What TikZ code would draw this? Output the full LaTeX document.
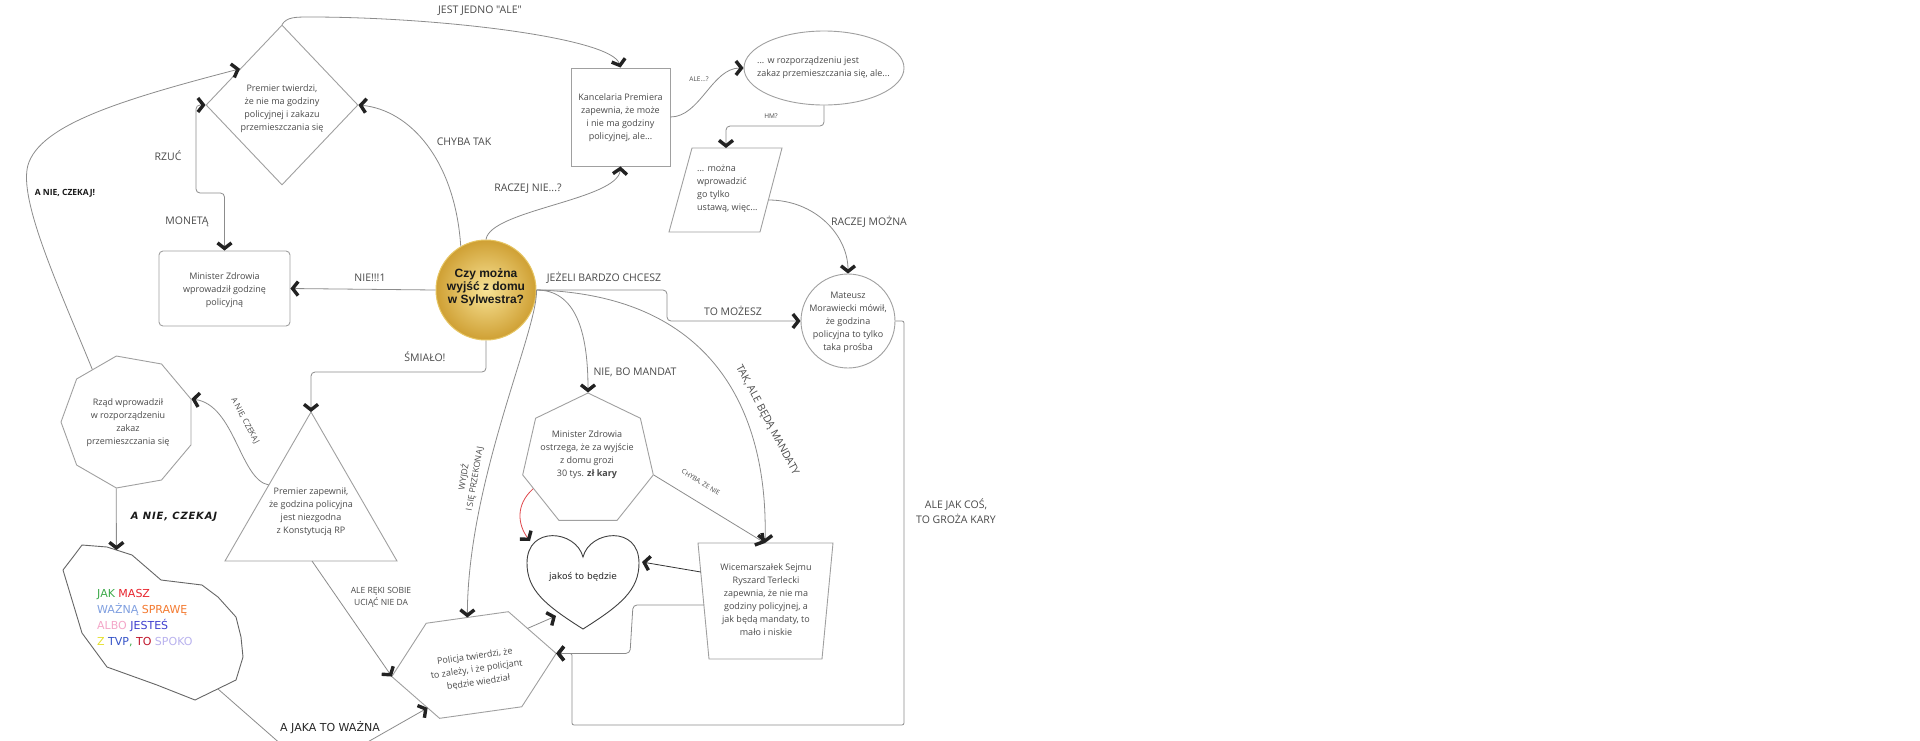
\documentclass[tikz,border=0pt]{standalone}
\usepackage{fontspec}
\setmainfont{Open Sans}
\newfontfamily\osplain[Ligatures=TeXOff]{Open Sans}
\newfontfamily\arialf{Liberation Sans}
\newfontfamily\comicf{DejaVu Sans}
\newfontfamily\comicsp[LetterSpace=8]{DejaVu Sans}
\usetikzlibrary{arrows.meta,shapes.geometric,calc}

\definecolor{edgec}{HTML}{8C8C8C}
\definecolor{shapec}{HTML}{A0A0A0}
\definecolor{tipc}{HTML}{222222}
\definecolor{txtc}{HTML}{4A4A4A}
\definecolor{goldL}{HTML}{F8E396}
\definecolor{goldD}{HTML}{CFA034}
\definecolor{goldR}{HTML}{E6C563}
\definecolor{cG}{HTML}{3DAA4A}
\definecolor{cR}{HTML}{E8252E}
\definecolor{cLB}{HTML}{7F9FE0}
\definecolor{cO}{HTML}{F47A30}
\definecolor{cP}{HTML}{F4A6C8}
\definecolor{cB}{HTML}{3F3FCF}
\definecolor{cY}{HTML}{E5E02A}
\definecolor{cBB}{HTML}{3654C8}
\definecolor{cDR}{HTML}{C0142A}
\definecolor{cL}{HTML}{B9B2EE}
\definecolor{redc}{HTML}{E0474C}

\tikzset{
  conn/.style={draw=edgec, line width=0.8pt, -{Straight Barb[length=5.5pt,width=14pt,line width=3.4pt,color=tipc]}},
  conntwo/.style={draw=edgec, line width=0.8pt, {Straight Barb[length=5.5pt,width=14pt,line width=3.4pt,color=tipc]}-{Straight Barb[length=5.5pt,width=14pt,line width=3.4pt,color=tipc]}},
  shapeline/.style={draw=shapec, line width=0.9pt},
  ntext/.style={font=\fontsize{9}{13}\selectfont, text=txtc, align=center, inner sep=0pt},
  lbl/.style={font=\fontsize{10.5}{15}\selectfont, text=txtc, inner sep=0pt},
  smalllbl/.style={font=\fontsize{6.5}{8}\selectfont, text=txtc, inner sep=0pt},
}

\begin{document}
\begin{tikzpicture}[x=1pt,y=-1pt]
\useasboundingbox[fill=white] (0,0) rectangle (1920,740);
\clip (0,0) rectangle (1920,740);

% ---------- shapes ----------
% diamond
\node[shapeline, diamond, minimum width=152, minimum height=160, inner sep=0pt] (dia) at (282,105) {};
\node[ntext] (dia-t) at (282,109) {Premier twierdzi,\\że nie ma godziny\\policyjnej i zakazu\\przemieszczania się};

% Kancelaria
\node[shapeline, rectangle, minimum width=99, minimum height=98, inner sep=0pt] (kanc) at (620.5,117) {};
\node[ntext] (kanc-t) at (620.5,118) {Kancelaria Premiera\\zapewnia, że może\\i nie ma godziny\\policyjnej, ale...};

% ellipse
\node[shapeline, ellipse, minimum width=160, minimum height=74, inner sep=0pt] (ell) at (824,68) {};
\node[ntext, align=left, anchor=west] (ell-t) at (757,67.5) {... w rozporządzeniu jest\\zakaz przemieszczania się, ale...};

% parallelogram
\draw[shapeline] (692,148) -- (782,148) -- (760,232) -- (669,232) -- cycle;
\coordinate (para-top) at (726,148);
\coordinate (para-r) at (768.5,200);
\node[ntext, align=left, anchor=west] (para-t) at (697,188.5) {... można\\wprowadzić\\go tylko\\ustawą, więc...};

% Mateusz circle
\node[shapeline, circle, minimum size=94, inner sep=0pt] (mat) at (848,321) {};
\node[ntext] (mat-t) at (848,322) {Mateusz\\Morawiecki mówił,\\że godzina\\policyjna to tylko\\taka prośba};

% central gold circle
\node[circle, minimum size=100, inner sep=0pt, draw=goldR, line width=1pt, inner color=goldL, outer color=goldD] (c) at (486,290) {};
\node[font=\arialf\bfseries\fontsize{12}{13}\selectfont, align=center, inner sep=0pt, text=black!90] (c-t) at (486,287) {Czy można\\wyjść z domu\\w Sylwestra?};

% Minister Zdrowia rect
\node[shapeline, rounded corners=4pt, minimum width=131, minimum height=75, inner sep=0pt] (min) at (224.5,288.5) {};
\node[ntext] (min-t) at (224.5,290) {Minister Zdrowia\\wprowadził godzinę\\policyjną};

% triangle
\draw[shapeline] (311,412) coordinate (tri-apex) -- (397,561) -- (225,561) -- cycle;
\coordinate (tri-bot) at (312,561);
\coordinate (tri-le) at (268.9,485);
\node[ntext] (tri-t) at (311,511.5) {Premier zapewnił,\\że godzina policyjna\\jest niezgodna\\z Konstytucją RP};

% nonagon
\node[shapeline, regular polygon, regular polygon sides=9, shape border rotate=10, minimum size=134, inner sep=0pt] (non) at (128,422) {};
\node[ntext] (non-t) at (128,422.5) {Rząd wprowadził\\w rozporządzeniu\\zakaz\\przemieszczania się};

% blob
\draw[draw=black!60, line width=0.9pt] (82,545) -- (107,547) -- (132,555) -- (161,580) -- (202,585) -- (218,597) -- (236,617) -- (241,637) -- (243,657) -- (236,680) -- (195,700) -- (157,685) -- (107,667) -- (82,633) -- (63,570) -- (73,557) -- cycle;
\coordinate (blob-top) at (116.4,550);
\coordinate (blob-br) at (218,689);
\node[font=\comicf\fontsize{11}{16}\selectfont, align=left, anchor=west, inner sep=0pt] (blob-t) at (97,618)
 {{\color{cG}JAK} {\color{cR}MASZ}\\{\color{cLB}WAŻNĄ} {\color{cO}SPRAWĘ}\\{\color{cP}ALBO} {\color{cB}JESTEŚ}\\{\color{cY}Z} {\color{cBB}TVP}{\color{cG},} {\color{cDR}TO} {\color{cL}SPOKO}};

% heptagon
\node[shapeline, regular polygon, regular polygon sides=7, minimum size=134, inner sep=0pt] (hep) at (588,460) {};
\node[ntext] (hep-t) at (587,455) {Minister Zdrowia\\ostrzega, że za wyjście\\z domu grozi\\30 tys. \textbf{zł kary}};

% heart
\draw[draw=black!75, line width=0.9pt] (583,557) .. controls (590,530) and (639,525) .. (639,563)
  .. controls (639,590) and (621,605) .. (583,629)
  .. controls (545,605) and (527,590) .. (527,563)
  .. controls (527,525) and (576,530) .. (583,557) -- cycle;
\coordinate (heart-r) at (642,562);
\coordinate (heart-tl) at (530,541);
\coordinate (heart-bl) at (556,616);
\node[font=\comicf\fontsize{9}{11}\selectfont, inner sep=0pt, text=black!85] (heart) at (583,577) {jakoś to będzie};

% Wicemarszalek trapezoid
\draw[shapeline] (698,543) -- (833,543) -- (822,659) -- (709,659) -- cycle;
\coordinate (wice-t) at (765,543);
\coordinate (wice-l1) at (700.8,572);
\coordinate (wice-l2) at (704,605);
\node[ntext] (wice-t-txt) at (766,599.5) {Wicemarszałek Sejmu\\Ryszard Terlecki\\zapewnia, że nie ma\\godziny policyjnej, a\\jak będą mandaty, to\\mało i niskie};

% Policja hexagon (rotated)
\begin{scope}[shift={(474,665)}, rotate=8]
  \draw[shapeline] (-83,0) coordinate (pol-l) -- (-41.5,-48) -- (41.5,-48) -- (83,0) coordinate (pol-r) -- (41.5,48) -- (-41.5,48) -- cycle;
  \coordinate (pol-t) at (0,-48);
  \coordinate (pol-ll) at (-51.9,36);
  \coordinate (pol-ur) at (58.1,-28.8);
  \node[ntext, rotate=8] (pol-txt) at (2,5) {Policja twierdzi, że\\to zależy, i że policjant\\będzie wiedział};
\end{scope}

% ---------- connectors ----------
\draw[conn] (dia.north) .. controls (287,17) and (295,17) .. (310,17) .. controls (440,17) and (612,38) .. (kanc.north);
\draw[conn] (kanc.east) .. controls (700,117) and (712,68) .. (ell.west);
\draw[conn, rounded corners=4pt] (ell.south) -- (824,126) -- (726,126) -- (para-top);
\draw[conn] (para-r) .. controls (815,200) and (848,235) .. (mat.north);
\draw[conn, rounded corners=4pt] (c.east) -- (667,290) -- (667,321) -- (mat.west);
\draw[conn, rounded corners=2pt] (mat.east) -- (904,321) -- (904,725) -- (572,725) -- (572,653.4) -- (pol-r);
\draw[conn, rounded corners=4pt] (wice-l2) -- (633,605) -- (630,653.4) -- (pol-r);
\draw[conn, draw=black!80] (wice-l1) -- (heart-r);
\draw[conn] (c.west) -- (min.east);
\draw[conn] (c.120) .. controls (455,160) and (410,110) .. (dia.east);
\draw[conn] (c.north) .. controls (490,210) and (618,200) .. (kanc.south);
\draw[conn, rounded corners=4pt] (c.south) -- (486,372) -- (311,372) -- (tri-apex);
\draw[conn] (c.east) .. controls (575,290) and (588,330) .. (hep.corner 1);
\draw[conn] (c.east) .. controls (720,295) and (768,420) .. (wice-t);
\draw[conn] (c.east) .. controls (538,330) and (468,480) .. (pol-t);
\draw[conn] (hep.corner 6) -- (wice-t);
\draw[conn, draw=redc] ($(hep.corner 3)!0.3!(hep.corner 4)$) .. controls (515,505) and (518,525) .. (heart-tl);
\draw[conn] (pol-ur) -- (heart-bl);
\draw[conn] (tri-bot) -- (pol-l);
\draw[conn] (blob-br) -- (299,760) -- (336,760) -- (pol-ll);
\draw[conn] (non.corner 5) -- (blob-top);
\draw[conn] (tri-le) .. controls (240,480) and (235,405) .. (non.corner 8);
\draw[conn] ($(non.corner 1)!0.6!(non.corner 2)$) .. controls (60,290) and (18,200) .. (28,165) .. controls (40,125) and (120,100) .. ($(dia.west)!0.45!(dia.north)$);
\draw[conntwo, rounded corners=4pt] (min.north) -- (224.5,193) -- (196,193) -- (196,105) -- (dia.west);

% ---------- labels ----------
\node[lbl, font=\osplain\fontsize{10.5}{15}\selectfont] (l-jest) at (480,11) {JEST JEDNO "ALE"};
\node[lbl] (l-chyba) at (464,142) {CHYBA TAK};
\node[lbl] (l-raczejnie) at (528,189) {RACZEJ NIE...?};
\node[lbl] (l-nie) at (370,278) {NIE!!!1};
\node[lbl] (l-rzuc) at (168,156) {RZUĆ};
\node[lbl] (l-moneta) at (187,222) {MONETĄ};
\node[font=\bfseries\fontsize{8.5}{10}\selectfont, text=black!90, inner sep=0pt] (l-anie) at (65,193) {A NIE, CZEKAJ!};
\node[smalllbl] (l-ale) at (699,79) {ALE...?};
\node[smalllbl] (l-hm) at (771,116) {HM?};
\node[lbl] (l-raczejm) at (869,222) {RACZEJ MOŻNA};
\node[lbl] (l-jezeli) at (604,278) {JEŻELI BARDZO CHCESZ};
\node[lbl] (l-tomozesz) at (733,311) {TO MOŻESZ};
\node[lbl] (l-niebo) at (635,372) {NIE, BO MANDAT};
\node[lbl, rotate=-62] (l-tak) at (767,420) {TAK, ALE BĘDĄ MANDATY};
\node[smalllbl, rotate=-31] (l-chybaze) at (701,482) {CHYBA, ŻE NIE};
\node[lbl, align=center] (l-alejak) at (956,511) {ALE JAK COŚ,\\TO GROŻA KARY};
\node[lbl] (l-smialo) at (425,357) {ŚMIAŁO!};
\node[font=\fontsize{8}{9.5}\selectfont, text=txtc, rotate=-62, inner sep=0pt] (l-anie2) at (245,421) {A NIE, CZEKAJ};
\node[font=\comicsp\bfseries\itshape\fontsize{10}{12}\selectfont, text=black!90, inner sep=0pt] (l-anie3) at (174,517) {A NIE, CZEKAJ};
\node[font=\fontsize{8.5}{11}\selectfont, text=txtc, align=center, rotate=80, inner sep=0pt] (l-wyjdz) at (469,478) {WYJDŹ\\I SIĘ PRZEKONAJ};
\node[font=\fontsize{8.5}{12}\selectfont, text=txtc, align=center, inner sep=0pt] (l-reki) at (381,597) {ALE RĘKI SOBIE\\UCIĄĆ NIE DA};
\node[font=\comicf\fontsize{11}{13}\selectfont, text=black!85, inner sep=0pt] (l-ajaka) at (330,728) {A JAKA TO WAŻNA};
\end{tikzpicture}
\end{document}
